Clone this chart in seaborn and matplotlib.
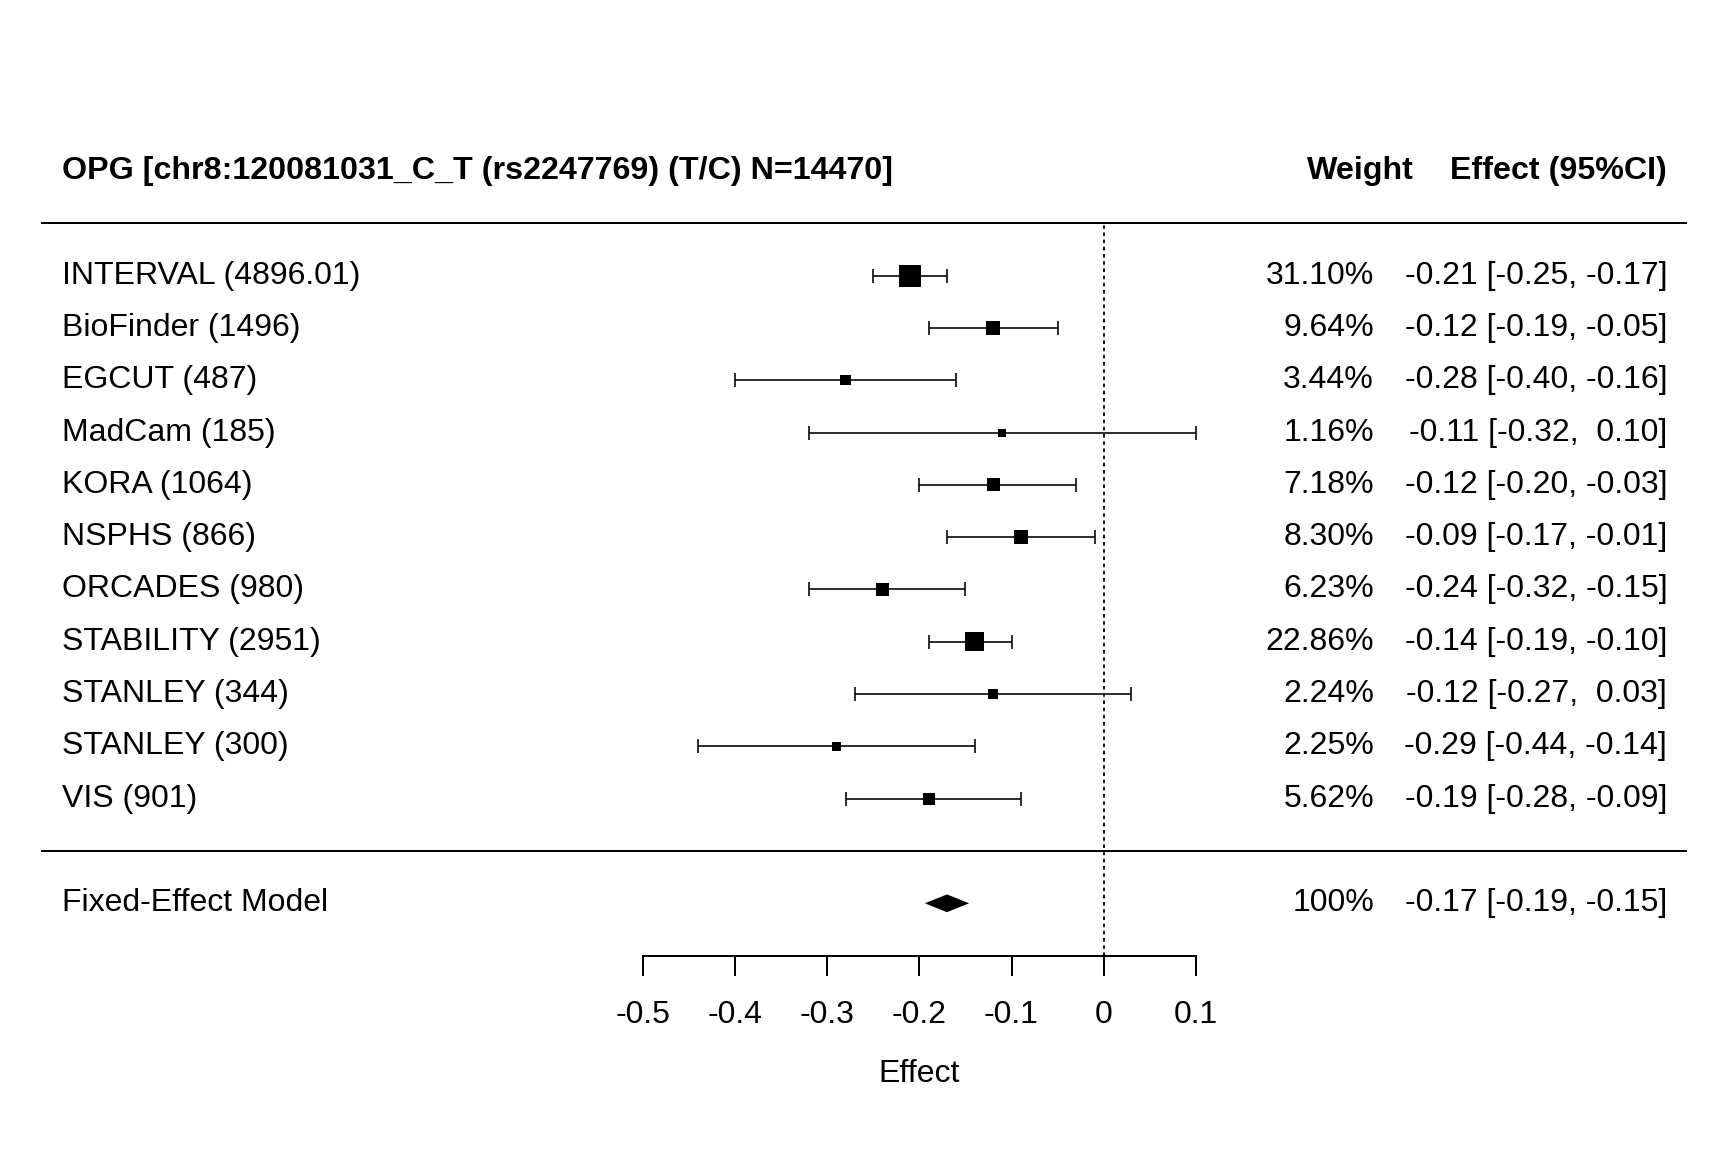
import numpy as np
import pandas as pd
import matplotlib.pyplot as plt
import seaborn as sns

# study data
studies = ['INTERVAL', 'BioFinder', 'EGCUT', 'MadCam', 'KORA', 'NSPHS',
           'ORCADES', 'STABILITY', 'STANLEY', 'STANLEY', 'VIS']
sample_sizes = ['4896.01', '1496', '487', '185', '1064', '866',
                '980', '2951', '344', '300', '901']
weights = [31.10, 9.64, 3.44, 1.16, 7.18, 8.30, 6.23, 22.86, 2.24, 2.25, 5.62]
effects = [-0.21, -0.12, -0.28, -0.11, -0.12, -0.09, -0.24, -0.14, -0.12, -0.29, -0.19]
lower = [-0.25, -0.19, -0.40, -0.32, -0.20, -0.17, -0.32, -0.19, -0.27, -0.44, -0.28]
upper = [-0.17, -0.05, -0.16, 0.10, -0.03, -0.01, -0.15, -0.10, 0.03, -0.14, -0.09]

# fixed-effect summary
fe_label = 'Fixed-Effect Model'
fe_effect = -0.17
fe_lower = -0.194
fe_upper = -0.146
fe_text = '-0.17 [-0.19, -0.15]'

title = 'OPG [chr8:120081031_C_T (rs2247769) (T/C) N=14470]'
xticks = [-0.5, -0.4, -0.3, -0.2, -0.1, 0, 0.1]
xtick_labels = ['-0.5', '-0.4', '-0.3', '-0.2', '-0.1', '0', '0.1']

sns.set_style('white')
plt.rcParams['font.family'] = ['Liberation Sans', 'DejaVu Sans']
plt.rcParams['text.color'] = 'black'
plt.rcParams['axes.labelcolor'] = 'black'
plt.rcParams['xtick.color'] = 'black'
plt.rcParams['axes.edgecolor'] = 'black'
FS = 16

k = len(studies)
df = pd.DataFrame({'study': studies, 'n': sample_sizes, 'weight': weights,
                   'effect': effects, 'lower': lower, 'upper': upper})
df['row'] = np.arange(k, 0, -1)
# square side grows with sqrt(weight), as in metafor
sw = np.sqrt(df['weight'])
side = 4.0 + (10.9 - 4.0) * (sw - sw.min()) / (sw.max() - sw.min())
df['area'] = side ** 2

fig = plt.figure(figsize=(12, 8), dpi=144)
ax = fig.add_axes([0, 0, 1, 1])
ax.set_xlim(-1.197, 0.677)
ax.set_ylim(-5.755, 16.27)

# confidence intervals
ax.errorbar(df['effect'], df['row'],
            xerr=[df['effect'] - df['lower'], df['upper'] - df['effect']],
            fmt='none', ecolor='black', elinewidth=0.8, capsize=3.3, capthick=0.8, zorder=2)
sns.scatterplot(data=df, x='effect', y='row', size='area',
                sizes=(df['area'].min(), df['area'].max()),
                marker='s', color='black', linewidth=0, legend=False, ax=ax, zorder=3)

# summary diamond
h = 0.17
ax.fill([fe_lower, fe_effect, fe_upper, fe_effect], [-1, -1 + h, -1, -1 - h],
        color='black', lw=0)

# reference line and rules
ax.vlines(0, -2, k + 1, colors='black', linestyles=(0, (2, 2)), lw=0.9)
ax.hlines([k + 1, 0], -1.152, 0.633, colors='black', lw=1.0)

# text columns
x_left, x_weight, x_eff, x_whead = -1.130, 0.293, 0.611, 0.336
ax.text(x_left, k + 2, title, fontsize=16.1, fontweight='bold', va='center', ha='left')
ax.text(x_whead, k + 2, 'Weight', fontsize=16.1, fontweight='bold', va='center', ha='right')
ax.text(x_eff, k + 2, 'Effect (95%CI)', fontsize=16.1, fontweight='bold', va='center', ha='right')
for _, r in df.iterrows():
    ax.text(x_left, r['row'], f"{r['study']} ({r['n']})", fontsize=FS, va='center', ha='left')
    ax.text(x_weight, r['row'], f"{r['weight']:.2f}%", fontsize=FS, va='center', ha='right')
    ax.text(x_eff, r['row'], f"{r['effect']:.2f} [{r['lower']:.2f}, {r['upper']:5.2f}]",
            fontsize=FS, va='center', ha='right')
ax.text(x_left, -1, fe_label, fontsize=FS, va='center', ha='left')
ax.text(x_weight, -1, '100%', fontsize=FS, va='center', ha='right')
ax.text(x_eff, -1, fe_text, fontsize=FS, va='center', ha='right')

# effect axis
for s in ['top', 'left', 'right']:
    ax.spines[s].set_visible(False)
ax.spines['bottom'].set_position(('data', -2))
ax.spines['bottom'].set_bounds(xticks[0], xticks[-1])
ax.spines['bottom'].set_linewidth(1.0)
ax.set_xticks(xticks, xtick_labels)
ax.tick_params(axis='x', direction='out', length=9.75, width=1.0, pad=12.5, labelsize=FS,
               bottom=True, colors='black')
ax.set_yticks([])
ax.set_xlabel('Effect', fontsize=FS)
ax.xaxis.label.set_va('center')
ax.xaxis.set_label_coords(0.532, 0.0675)
ax.set_ylabel('')

fig.savefig('out.png', dpi=144)
